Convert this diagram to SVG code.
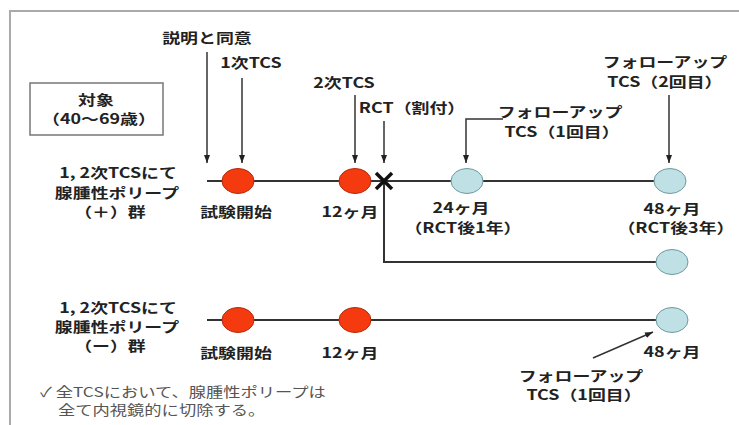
<svg xmlns="http://www.w3.org/2000/svg" width="739" height="425" viewBox="0 0 739 425">
<style>
  .lbl { font-family: "Noto Sans CJK JP", "Noto Sans", sans-serif; font-weight: bold; font-size: 14px; fill: #222; text-anchor: middle; }
  .note { font-family: "Noto Sans CJK JP", "Noto Sans", sans-serif; font-size: 13.5px; fill: #555; }
  .arrow { fill: none; stroke: #333; stroke-width: 1.5; marker-end: url(#ah); }
  .line { fill: none; stroke: #333; stroke-width: 2; }
  .red { fill: #f63a10; stroke: #b02a0a; stroke-width: 1; }
  .blue { fill: #bfe0e4; stroke: #6d9aa0; stroke-width: 1; }
</style>
<defs>
  <marker id="ah" markerWidth="8" markerHeight="6" refX="8" refY="3" orient="auto" markerUnits="userSpaceOnUse">
    <path d="M0,0 L8,3 L0,6 z" fill="#222"/>
  </marker>
</defs>
<rect width="739" height="425" fill="#fff"/>
<path d="M10,425 V11 H739" fill="none" stroke="#aaa" stroke-width="2"/>

<g id="connectors">
  <path class="line" d="M207,181 H656"/>
  <path class="line" d="M384,181 V262 H656"/>
  <path class="line" d="M207,320 H656"/>
  <path class="arrow" d="M207,52 V163"/>
  <path class="arrow" d="M242,78 V163"/>
  <path class="arrow" d="M355,95 V163"/>
  <path class="arrow" d="M384,121 V163"/>
  <path class="arrow" d="M503,119 H466 V163"/>
  <path class="arrow" d="M669,95 V163"/>
  <path class="arrow" d="M593,358 L653,332"/>
</g>

<g id="target">
  <rect x="30" y="83" width="133" height="52" fill="#fff" stroke="#777" stroke-width="1.5"/>
</g>
<g id="n-start1"><ellipse class="red" cx="238" cy="181" rx="16" ry="12.5"/></g>
<g id="n-12m1"><ellipse class="red" cx="355" cy="181" rx="16" ry="12.5"/></g>
<g id="n-rct">
  <path d="M376,173 L392,189 M392,173 L376,189" stroke="#111" stroke-width="3.5" fill="none"/>
</g>
<g id="n-24m1"><ellipse class="blue" cx="467" cy="181" rx="16" ry="12.5"/></g>
<g id="n-48m1"><ellipse class="blue" cx="670" cy="181" rx="16" ry="12.5"/></g>
<g id="n-48m2"><ellipse class="blue" cx="672" cy="262" rx="16" ry="12.5"/></g>
<g id="n-start3"><ellipse class="red" cx="238" cy="320" rx="16" ry="12.5"/></g>
<g id="n-12m3"><ellipse class="red" cx="355" cy="320" rx="16" ry="12.5"/></g>
<g id="n-48m3"><ellipse class="blue" cx="672" cy="320" rx="16" ry="12.5"/></g>

<g id="texts" transform="scale(1.28,1)">
  <text class="lbl" x="161.7" y="43">説明と同意</text>
  <text class="lbl" x="196.1" y="68">1次TCS</text>
  <text class="lbl" x="268.8" y="88">2次TCS</text>
  <text class="lbl" x="321.9" y="113">RCT（割付）</text>
  <text class="lbl" x="437.5" y="117">フォローアップ</text>
  <text class="lbl" x="439.1" y="137">TCS（1回目）</text>
  <text class="lbl" x="519.5" y="67">フォローアップ</text>
  <text class="lbl" x="519.5" y="87">TCS（2回目）</text>
  <text class="lbl" x="75" y="105">対象</text>
  <text class="lbl" x="77.3" y="124">（40〜69歳）</text>
  <text class="lbl" x="92.2" y="178">1, 2次TCSにて</text>
  <text class="lbl" x="91.4" y="198">腺腫性ポリープ</text>
  <text class="lbl" x="85.9" y="217">（＋）群</text>
  <text class="lbl" x="184.4" y="217">試験開始</text>
  <text class="lbl" x="273.4" y="217">12ヶ月</text>
  <text class="lbl" x="360.2" y="213">24ヶ月</text>
  <text class="lbl" x="361.7" y="233">（RCT後1年）</text>
  <text class="lbl" x="525" y="214">48ヶ月</text>
  <text class="lbl" x="528.1" y="233">（RCT後3年）</text>
  <text class="lbl" x="92.2" y="313">1, 2次TCSにて</text>
  <text class="lbl" x="91.4" y="332">腺腫性ポリープ</text>
  <text class="lbl" x="85.9" y="351">（ー）群</text>
  <text class="lbl" x="184.4" y="358">試験開始</text>
  <text class="lbl" x="273.4" y="358">12ヶ月</text>
  <text class="lbl" x="525" y="357">48ヶ月</text>
  <text class="lbl" x="453.9" y="381">フォローアップ</text>
  <text class="lbl" x="456.3" y="400">TCS（1回目）</text>
  <text class="note" x="31.3" y="397">✓ 全TCSにおいて、腺腫性ポリープは</text>
  <text class="note" x="45.3" y="415">全て内視鏡的に切除する。</text>
</g>
</svg>
